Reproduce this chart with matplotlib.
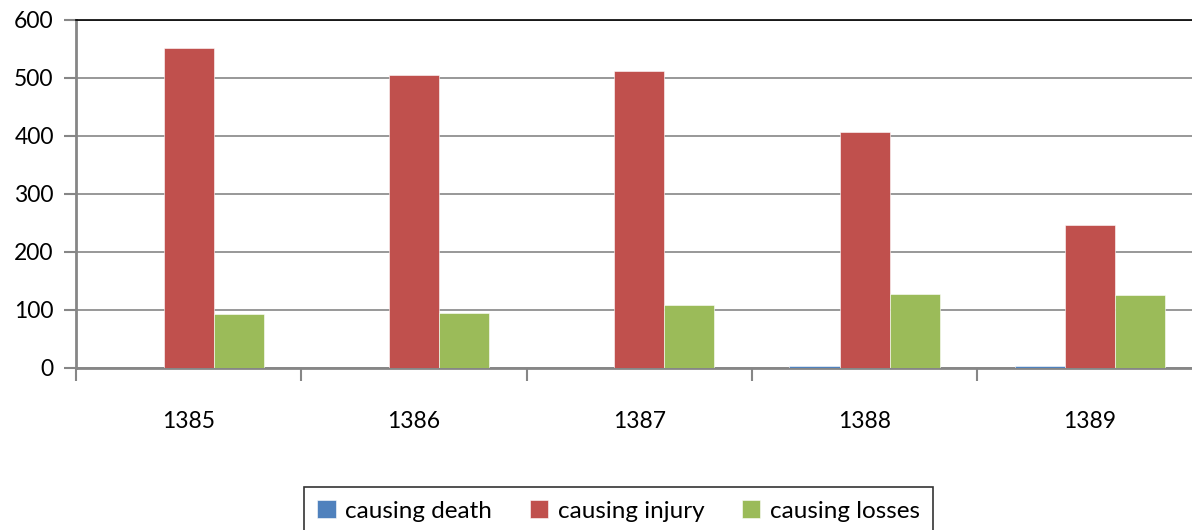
import matplotlib.pyplot as plt
import numpy as np

plt.rcParams['font.family'] = ['Lato', 'DejaVu Sans']

years = ['1385', '1386', '1387', '1388', '1389']
death = [0, 0, 0, 3, 3]
injury = [552, 505, 512, 407, 247]
losses = [93, 95, 109, 128, 126]

colors = ['#4F81BD', '#C0504D', '#9BBB59']
labels = ['causing death', 'causing injury', 'causing losses']

fig = plt.figure(figsize=(11.92, 5.30), dpi=100)
ax = fig.add_axes([76 / 1192, (530 - 368) / 530, 1 - 76 / 1192, 348 / 530])

x = np.arange(len(years))
w = 0.667 / 3
for i, vals in enumerate([death, injury, losses]):
    ax.bar(x + (i - 1) * w, vals, w, color=colors[i], label=labels[i],
           edgecolor='white', linewidth=0.4, zorder=3)

ax.yaxis.grid(True, color='#868686', linewidth=1.2, zorder=0)
ax.set_axisbelow(True)

# category ticks sit on the boundaries, labels in the middle
ax.set_xticks(np.arange(-0.5, 4.6, 1.0))
ax.set_xticklabels([])
ax.set_xticks(x, minor=True)
ax.set_xticklabels(years, minor=True)
ax.tick_params(axis='x', which='minor', length=0, pad=31, labelsize=16.5)
ax.tick_params(axis='x', which='major', length=9, width=1.5, color='#868686')
ax.tick_params(axis='y', length=9, width=1.5, color='#868686', pad=7, labelsize=16.5)
ax.set_yticks(range(0, 601, 100))
ax.set_ylim(0, 600)
ax.set_xlim(-0.5, 4.453)

for s in ['left', 'bottom']:
    ax.spines[s].set_color('#868686')
    ax.spines[s].set_linewidth(2)
ax.spines['right'].set_visible(False)
ax.spines['top'].set_color('black')
ax.spines['top'].set_linewidth(1.2)

leg = fig.legend(loc='upper center', bbox_to_anchor=(0.519, 43 / 530), ncol=3,
                 fontsize=17.5, frameon=True, fancybox=False, edgecolor='black',
                 handlelength=0.75, handleheight=0.75, handletextpad=0.4,
                 columnspacing=1.55, borderpad=0.55, borderaxespad=0)
leg.get_frame().set_linewidth(1.2)

fig.savefig('out.png', dpi=100)
